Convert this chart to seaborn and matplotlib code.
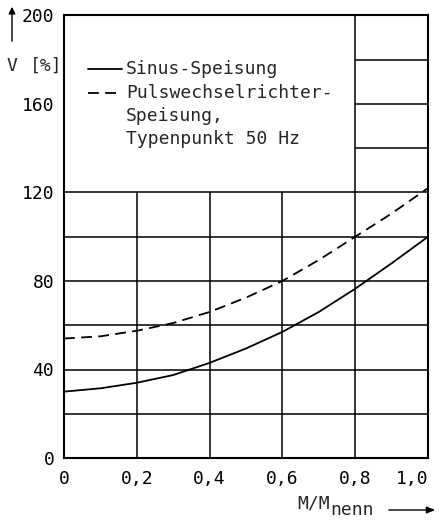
import matplotlib
matplotlib.use("Agg")
import matplotlib.pyplot as plt
import seaborn as sns
import pandas as pd

# Data
x_vals = [0.0, 0.1, 0.2, 0.3, 0.4, 0.5, 0.6, 0.7, 0.8, 0.9, 1.0]
sinus = [30, 31.5, 34, 37.5, 43, 49.5, 57, 66, 76.5, 88, 100]
puls = [54, 55, 57.5, 61, 66, 72.5, 80, 89.5, 100, 110.5, 122]
series_names = ["Sinus-Speisung", "Pulswechselrichter-\nSpeisung,\nTypenpunkt 50 Hz"]
x_ticks = [0, 0.2, 0.4, 0.6, 0.8, 1.0]
x_ticklabels = ["0", "0,2", "0,4", "0,6", "0,8", "1,0"]
y_ticks = [0, 40, 80, 120, 160, 200]

sns.set_style("white")
plt.rcParams["font.family"] = ["DejaVu Sans Mono", "DejaVu Sans"]
FS = 13

df = pd.DataFrame({
    "x": x_vals * 2,
    "v": sinus + puls,
    "s": [series_names[0]] * len(x_vals) + [series_names[1]] * len(x_vals),
})

fig = plt.figure(figsize=(4.42, 5.22), dpi=100)
ax = fig.add_axes([64 / 442, 1 - 458 / 522, 364 / 442, 442.5 / 522])

# grid
for y in [20, 40, 60, 80, 100, 120]:
    ax.hlines(y, 0, 1, color="black", lw=1.1, zorder=1)
for y in [140, 160, 180]:
    ax.hlines(y, 0.8, 1, color="black", lw=1.1, zorder=1)
for x in [0.2, 0.4, 0.6]:
    ax.vlines(x, 0, 120, color="black", lw=1.1, zorder=1)
ax.vlines(0.8, 0, 200, color="black", lw=1.1, zorder=1)

sns.lineplot(data=df, x="x", y="v", style="s", color="black", lw=1.3,
             dashes={series_names[0]: "", series_names[1]: (6, 3.5)},
             legend=False, ax=ax, zorder=3)

ax.set_xlim(0, 1)
ax.set_ylim(0, 200)
ax.set_xticks(x_ticks)
ax.set_xticklabels(x_ticklabels)
ax.set_yticks(y_ticks)
ax.tick_params(length=0, labelsize=FS, pad=7, colors="black")
ax.tick_params(axis="x", pad=9)
ax.get_xticklabels()[-1].set_ha("right")
for sp in ax.spines.values():
    sp.set_visible(True)
    sp.set_color("black")
    sp.set_linewidth(1.5)
ax.set_xlabel("")
ax.set_ylabel("")

# legend drawn manually
ax.plot([0.066, 0.159], [176, 176], color="black", lw=1.3)
ax.text(0.170, 176, series_names[0], fontsize=FS, va="center", ha="left")
ax.plot([0.066, 0.150], [165, 165], color="black", lw=1.3, dashes=(6, 3.5))
ax.text(0.170, 165, "Pulswechselrichter-", fontsize=FS, va="center", ha="left")
ax.text(0.170, 154.6, "Speisung,", fontsize=FS, va="center", ha="left")
ax.text(0.170, 144.2, "Typenpunkt 50 Hz", fontsize=FS, va="center", ha="left")

# axis labels with arrows
fig.text(12 / 442, 1 - 66 / 522, "V", fontsize=FS, va="center", ha="center")
fig.text(30 / 442, 1 - 66 / 522, "[%]", fontsize=FS, va="center", ha="left")
fig.add_artist(matplotlib.patches.FancyArrowPatch(
    (12 / 442, 1 - 44 / 522), (12 / 442, 1 - 4 / 522), transform=fig.transFigure,
    arrowstyle="-|>,head_length=4,head_width=2", color="black", lw=1.0))
fig.text(297 / 442, 1 - 509 / 522, "M/M", fontsize=FS, va="baseline", ha="left")
fig.text(330 / 442, 1 - 515 / 522, "nenn", fontsize=FS, va="baseline", ha="left")
fig.add_artist(matplotlib.patches.FancyArrowPatch(
    (386 / 442, 1 - 510 / 522), (438 / 442, 1 - 510 / 522), transform=fig.transFigure,
    arrowstyle="-|>,head_length=5,head_width=2", color="black", lw=1.0))

fig.savefig("out.png", dpi=100)
